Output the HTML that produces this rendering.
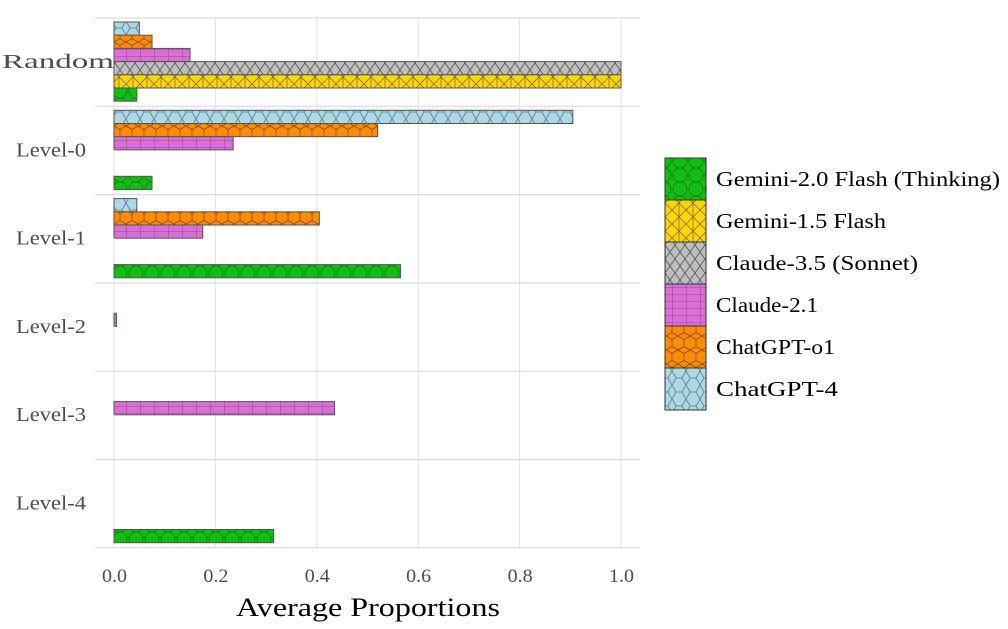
<!DOCTYPE html>
<html><head><meta charset="utf-8"><style>
body{margin:0;background:#fff}
svg text{font-family:"Liberation Serif",serif}
</style></head><body>
<svg id="c" width="1008" height="624" viewBox="0 0 1008 624">
<defs>
<pattern id="p0" width="16" height="14" patternUnits="userSpaceOnUse"><rect width="16" height="14" fill="#10c010"/><circle cx="8" cy="7" r="7" fill="#10c010" stroke="#1a6e1a" stroke-width="0.8"/></pattern>
<pattern id="p1" width="14" height="14" patternUnits="userSpaceOnUse"><rect width="14" height="14" fill="#ffd700"/><path d="M0 0L14 14M14 0L0 14M7 0V14" stroke="#8a7020" stroke-width="0.8"/></pattern>
<pattern id="p2" width="10" height="14" patternUnits="userSpaceOnUse"><rect width="10" height="14" fill="#bebebe"/><path d="M0 0L5 7L0 14M10 0L5 7L10 14" stroke="#555" stroke-width="0.8" fill="none"/></pattern>
<pattern id="p3" width="14" height="7" patternUnits="userSpaceOnUse"><rect width="14" height="7" fill="#da70d6"/><path d="M0 0H14M0 0V7" stroke="#7a3a7a" stroke-width="0.8"/></pattern>
<pattern id="p4" width="12" height="14" patternUnits="userSpaceOnUse"><rect width="12" height="14" fill="#ff8c00"/><path d="M0 3.5L6 0L12 3.5V10.5L6 14L0 10.5Z" stroke="#8a4a00" stroke-width="0.8" fill="none"/></pattern>
<pattern id="p5" width="14" height="14" patternUnits="userSpaceOnUse"><rect width="14" height="14" fill="#add8e6"/><path d="M4 0L10 0L14 7L10 14L4 14L0 7Z" stroke="#5a7a88" stroke-width="0.8" fill="none"/></pattern>
</defs>
<g id="grid"></g><g id="bars"></g><g id="labels"></g><g id="legend"></g>
<text x="236" y="616" font-size="26" textLength="264" lengthAdjust="spacingAndGlyphs" fill="#000">Average Proportions</text>
</svg>
<script>
const categories=["Random","Level-0","Level-1","Level-2","Level-3","Level-4"];
const seriesNames=["ChatGPT-4","ChatGPT-o1","Claude-2.1","Claude-3.5 (Sonnet)","Gemini-1.5 Flash","Gemini-2.0 Flash (Thinking)"];
const chatgpt4=[0.05,0.905,0.045,0,0,0];
const chatgpto1=[0.075,0.52,0.405,0,0,0];
const claude21=[0.15,0.235,0.175,0.005,0.435,0];
const claude35=[1.0,0,0,0,0,0];
const gemini15=[1.0,0,0,0,0,0];
const gemini20=[0.045,0.075,0.565,0,0,0.315];
const xTicks=[0,0.2,0.4,0.6,0.8,1.0];
const xTickLabels=["0.0","0.2","0.4","0.6","0.8","1.0"];
const NS="http://www.w3.org/2000/svg";
const series=[chatgpt4,chatgpto1,claude21,claude35,gemini15,gemini20];
const pats=["p5","p4","p3","p2","p1","p0"];
const x=v=>114+v*507;
const groupTop=i=>18+i*88.3;
function mk(tag,attrs,parent){const e=document.createElementNS(NS,tag);for(const k in attrs)e.setAttribute(k,attrs[k]);document.getElementById(parent).appendChild(e);return e;}
xTicks.forEach((t,i)=>{
 const l=mk("line",{x1:x(t),x2:x(t),y1:18,y2:548,stroke:"#e3e3e3","stroke-width":1},"grid");
 
 
 const tx=mk("text",{x:x(t)-12,y:582,"font-size":19,textLength:25,lengthAdjust:"spacingAndGlyphs",fill:"#4d4d4d"},"labels");
 tx.textContent=xTickLabels[i];
 
 
});
for(let i=0;i<=categories.length;i++){
 const l=mk("line",{x1:95,x2:640,y1:groupTop(i),y2:groupTop(i),stroke:"#dcdcdc","stroke-width":1.2},"grid");
 
 
}
categories.forEach((c,i)=>{
 const w=i==0?112:70;
 const tx=mk("text",{x:(i==0?114:86)-w,y:groupTop(i)+50,"font-size":20,textLength:w,lengthAdjust:"spacingAndGlyphs",fill:"#4d4d4d"},"labels");
 tx.textContent=c;
 
 
 series.forEach((s,j)=>{
  const y=groupTop(i)+4+j*13.2;
  const r=mk("rect",{x:x(0),y:y,width:Math.max(s[i]*507,0.3),height:13.2,fill:"url(#"+pats[j]+")",stroke:s[i]>0?"#555":"#ddd","stroke-width":s[i]>0?1:0.4},"bars");
  
  
 });
});
const legW=[284,170,202,102,119,122];
for(let k=0;k<6;k++){
 const j=5-k;const y=158+k*42;
 const r=mk("rect",{x:665,y:y,width:41,height:42,fill:"url(#"+pats[j]+")",stroke:"#333","stroke-width":1},"legend");
 
 
 const t=mk("text",{x:716,y:y+28,"font-size":21,textLength:legW[k],lengthAdjust:"spacingAndGlyphs",fill:"#000"},"legend");
 t.textContent=seriesNames[j];
 
 
}
</script>
</body></html>
